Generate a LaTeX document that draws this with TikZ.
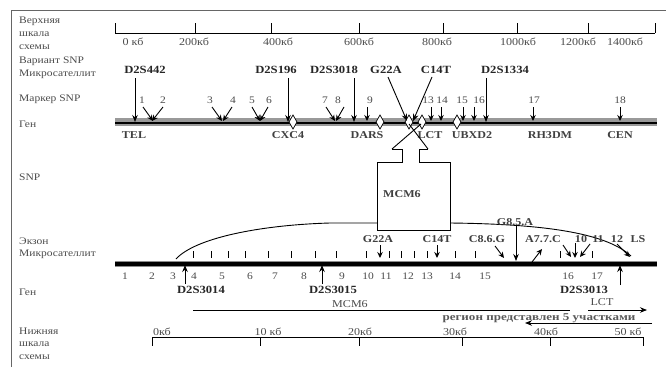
\documentclass[tikz,border=0pt]{standalone}
\usepackage{fontspec}
\setmainfont{Liberation Serif}[FakeStretch=1.15]
\usetikzlibrary{arrows.meta}
\begin{document}
\begin{tikzpicture}[x=1pt,y=-1pt,
 lbl/.style={anchor=west,inner sep=0pt,font=\fontsize{10}{10}\selectfont,text=black!70},
 sc/.style={inner sep=0pt,font=\fontsize{10.5}{10}\selectfont,text=black!70},
 bl/.style={inner sep=0pt,font=\fontsize{11}{10}\selectfont\bfseries,text=black!85},
 gn/.style={inner sep=0pt,font=\fontsize{10.5}{10}\selectfont\bfseries,text=black!75},
 num/.style={inner sep=0pt,font=\fontsize{10}{10}\selectfont,text=black!70},
 arr/.style={-{Stealth[length=7pt,width=5.5pt]},line width=0.9pt},
 sarr/.style={-{Stealth[length=6pt,width=5.5pt]},line width=0.9pt},
 dia/.style={draw,fill=white,line width=0.7pt}
]
\useasboundingbox (0,0) rectangle (666,367);
\fill[white] (0,0) rectangle (666,367);
\draw[black!60, line width=1pt] (11,367) -- (11,10) -- (666,10);

% left labels
\node[lbl] (l1) at (19,21) {Верхняя};
\node[lbl] (l2) at (19,34) {шкала};
\node[lbl] (l3) at (19,47) {схемы};
\node[lbl] (l4) at (19,61) {Вариант SNP};
\node[lbl] (l5) at (19,74) {Микросателлит};
\node[lbl] (l6) at (19,99) {Маркер SNP};
\node[lbl] (l7) at (19,124) {Ген};
\node[lbl] (l8) at (19,177) {SNP};
\node[lbl] (l9) at (19,241) {Экзон};
\node[lbl] (l10) at (19,254) {Микросателлит};
\node[lbl] (l11) at (19,292) {Ген};
\node[lbl] (l12) at (19,331) {Нижняя};
\node[lbl] (l13) at (19,344) {шкала};
\node[lbl] (l14) at (19,357) {схемы};

% top scale
\draw[line width=0.9pt] (115,33) -- (655,33);
\foreach \x in {115,195,271,359,443,517,588,655} \draw[line width=0.9pt] (\x,23) -- (\x,33);
\foreach \x/\t in {133/0 кб,194/200кб,278/400кб,359/600кб,437/800кб,518/1000кб,578/1200кб,625/1400кб}
  \node[sc] at (\x,42) {\t};

% chromosome bar
\draw[black!40, line width=8pt] (115,122) -- (657,122);
\draw[line width=2.6pt] (115,123) -- (657,123);

% diamonds
\foreach \x in {293,380,409,422,457}
  \draw[dia] (\x,115) -- (\x+4,122) -- (\x,129) -- (\x-4,122) -- cycle;

% microsatellites / variants (top)
\foreach \n/\ax in {d442/135,d196/288,d3018/354,d1334/486}{
  \coordinate (s\n) at (\ax,78);
  \coordinate (e\n) at (\ax,122);
  \draw[arr] (s\n) -- (e\n);
}
\node[bl] (d442) at (145,70) {D2S442};
\node[bl] (d196) at (276,70) {D2S196};
\node[bl] (d3018) at (334,70) {D2S3018};
\node[bl] (d1334) at (505,70) {D2S1334};
\node[bl] (g22) at (386,70) {G22A};
\node[bl] (c14) at (436,70) {C14T};
\coordinate (g22e) at (407,121);
\coordinate (c14e) at (413,121);
\draw[arr] (388,77) -- (g22e);
\draw[arr] (432,77) -- (c14e);

% SNP markers
\foreach \n/\lx/\ax/\tx in {1/142/143/153,2/163/163/152,3/210/212/222,4/233/232/223,5/252/252/260,6/269/268/260,7/325/326/335,8/338/344/336,9/370/367/367,13/428/431/431,14/442/441/441,15/462/463/463,16/479/474/474,17/534/533/533,18/620/620/620}{
  \node[num] (m\n) at (\lx,100) {\n};
  \coordinate (mt\n) at (\tx,121);
  \draw[sarr] (\ax,107) -- (mt\n);
}

% gene labels
\foreach \x/\t in {134/TEL,288/CXC4,367/DARS,430/LCT,472/UBXD2,550/RH3DM,620/CEN}
  \node[gn] at (\x,135) {\t};

% curve
\draw[line width=0.9pt] (176,259) .. controls (195,238) and (260,225) .. (330,223) -- (450,223) .. controls (540,224) and (605,232) .. (631,256);

% hollow arrow + box
\draw[fill=white,line width=0.9pt] (392,149) -- (402,149) -- (402,162) -- (377,162) -- (377,230) -- (450,230) -- (450,162) -- (419,162) -- (419,149) -- (428,149);
\draw[line width=0.9pt] (392,149) -- (421,124);
\draw[line width=0.9pt] (428,149) -- (409,124);
\node[gn] (mcm) at (402,194) {MCM6};

% exon axis
\draw[black!45, line width=6.5pt] (115,264) -- (657,264);
\draw[line width=4.2pt] (115,264) -- (657,264);
\foreach \x in {193,211,228,245,268,291,315,336,366,389,401,414,427,455,475,560,592}
  \draw[line width=1pt] (\x,251) -- (\x,258);
\foreach \x/\t in {125/1,152/2,173/3,194/4,222/5,250/6,275/7,304/8,342/9,368/10,386/11,408/12,427/13,455/14,485/15,568/16,597/17}
  \node[num] at (\x,276) {\t};

% microsatellites (bottom)
\node[bl] (b3014) at (201,290) {D2S3014};
\node[bl] (b3015) at (333,290) {D2S3015};
\node[bl] (b3013) at (584,290) {D2S3013};
\coordinate (x3014) at (185,265);
\coordinate (x3015) at (322,265);
\coordinate (x3013) at (620,265);
\draw[arr] (185,284) -- (x3014);
\draw[arr] (322,284) -- (x3015);
\draw[arr] (620,285) -- (x3013);

% exon SNPs
\node[gn] (eg22) at (378,239) {G22A};
\node[gn] (ec14) at (437,239) {C14T};
\node[gn] (ec86) at (487,239) {C8.6.G};
\node[gn] (eg85) at (515,222) {G8.5.A};
\node[gn] (ea77) at (543,239) {A7.7.C};
\node[gn] (e10) at (581,239) {10};
\node[gn] (e11) at (598,239) {11};
\node[gn] (e12) at (617,239) {12};
\node[gn] (els) at (638,239) {LS};
\coordinate (tg22) at (380,258);
\coordinate (tc14) at (437,258);
\coordinate (tc86) at (504,258);
\coordinate (tg85) at (516,261);
\coordinate (ta77) at (542,249);
\draw[sarr] (380,245) -- (tg22);
\draw[sarr] (437,245) -- (tc14);
\draw[sarr] (495,246) -- (tc86);
\draw[arr] (516,226) -- (tg85);
\draw[sarr] (532,262) -- (ta77);
\draw[sarr] (563,245) -- (571,257);
\draw[sarr] (575,243) -- (575,258);
\draw[sarr] (590,244) -- (580,257);
\draw[sarr] (617,244) -- (630,257);

% genes bottom
\draw[line width=0.9pt] (193,310) -- (570,310);
\node[sc,fill=white,inner xsep=1pt] (gm) at (350,304) {MCM6};
\node[sc] (glct) at (602,302) {LCT};
\coordinate (lcts) at (588,310);
\coordinate (lcte) at (647,310);
\draw[arr] (lcts) -- (lcte);
\node[sc,font=\fontsize{10.5}{10}\selectfont\bfseries,text=black!65] (reg) at (539,318) {\scalebox{1.08}[1]{регион представлен 5 участками}};
\coordinate (rs) at (652,323);
\coordinate (re) at (525,323);
\draw[arr] (rs) -- (re);

% bottom scale
\draw[line width=0.9pt] (152,337) -- (643,337);
\foreach \x in {152,260,359,462,550,643} \draw[line width=0.9pt] (\x,337) -- (\x,346);
\foreach \x/\t in {162/0кб,268/10 кб,360/20кб,455/30кб,546/40кб,628/50 кб}
  \node[sc] at (\x,332) {\t};
\end{tikzpicture}
\end{document}
